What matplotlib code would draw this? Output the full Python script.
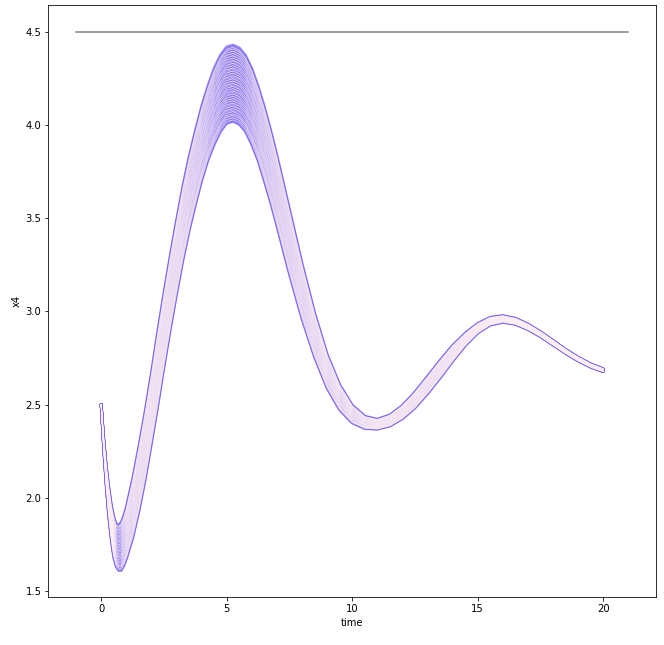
import numpy as np
import matplotlib
matplotlib.use('Agg')
from matplotlib import pyplot as plt

# time grid and the two outer trajectories
time = [0.0, 0.1, 0.2, 0.3, 0.4, 0.5, 0.6, 0.7, 0.8, 0.9, 1.0,
        1.25, 1.5, 1.75, 2.0, 2.25, 2.5, 2.75, 3.0, 3.25, 3.5, 3.75,
        4.0, 4.25, 4.5, 4.75, 5.0, 5.25, 5.5, 5.75, 6.0, 6.25, 6.5, 6.75,
        7.0, 7.5, 8.0, 8.5, 9.0, 9.5, 10.0, 10.5, 11.0, 11.5, 12.0, 12.5,
        13.0, 13.5, 14.0, 14.5, 15.0, 15.5, 16.0, 16.5, 17.0, 17.5, 18.0,
        18.5, 19.0, 19.5, 20.0]
upper = [2.50, 2.32, 2.175, 2.06, 1.965, 1.90, 1.86, 1.855, 1.87, 1.905, 1.95,
         2.10, 2.275, 2.465, 2.67, 2.89, 3.10, 3.30, 3.49, 3.67, 3.83, 3.97,
         4.10, 4.21, 4.305, 4.375, 4.42, 4.43, 4.415, 4.375, 4.305, 4.21, 4.10, 3.975,
         3.84, 3.55, 3.26, 2.995, 2.772, 2.608, 2.498, 2.438, 2.422, 2.445, 2.496, 2.568,
         2.652, 2.738, 2.818, 2.884, 2.936, 2.969, 2.978, 2.964, 2.933, 2.892, 2.845,
         2.797, 2.755, 2.719, 2.693]
lower = [2.50, 2.26, 2.065, 1.90, 1.775, 1.68, 1.63, 1.61, 1.61, 1.635, 1.67,
         1.78, 1.925, 2.095, 2.29, 2.49, 2.70, 2.90, 3.09, 3.27, 3.43, 3.57,
         3.70, 3.81, 3.895, 3.965, 4.01, 4.02, 4.005, 3.965, 3.895, 3.81, 3.70, 3.585,
         3.46, 3.20, 2.96, 2.755, 2.588, 2.472, 2.402, 2.372, 2.368, 2.385, 2.424, 2.482,
         2.558, 2.642, 2.732, 2.816, 2.884, 2.927, 2.942, 2.931, 2.903, 2.865, 2.82,
         2.775, 2.735, 2.701, 2.677]
# where each sampled run sits between the two outer runs
spread = [0.00, 0.02, 0.05, 0.08, 0.10, 0.13, 0.17, 0.20, 0.24, 0.27, 0.30,
          0.33, 0.36, 0.40, 0.43, 0.46, 0.50, 0.53, 0.56, 0.60, 0.63, 0.66,
          0.70, 0.73, 0.76, 0.80, 0.83, 0.86, 0.89, 0.92, 0.95, 0.97, 1.00]
ref_level = 4.5

t = np.array(time)
up = np.array(upper)
lo = np.array(lower)

fig = plt.figure(figsize=(664/72, 645/72), dpi=72)
ax = fig.add_axes([0.073, 0.0738, 0.9148, 0.9183])

style = dict(solid_capstyle='round', solid_joinstyle='round')
runs = [lo + w*(up - lo) for w in spread]
for x4 in runs:
    ax.plot(t, x4, color='mediumslateblue', lw=2.8, alpha=0.8, **style)
# pale centre on the inner runs only, so the outer rim stays blue
for x4 in runs[1:-1]:
    ax.plot(t, x4, color='lavenderblush', lw=0.9, alpha=0.7, **style)

ax.plot([-1, 21], [ref_level, ref_level], color='grey', lw=1.5)

ax.set_xlabel('time')
ax.set_ylabel('x4')
ax.set_xticks([0, 5, 10, 15, 20])
ax.set_yticks([1.5, 2.0, 2.5, 3.0, 3.5, 4.0, 4.5])

plt.savefig('out.png', dpi=72)
